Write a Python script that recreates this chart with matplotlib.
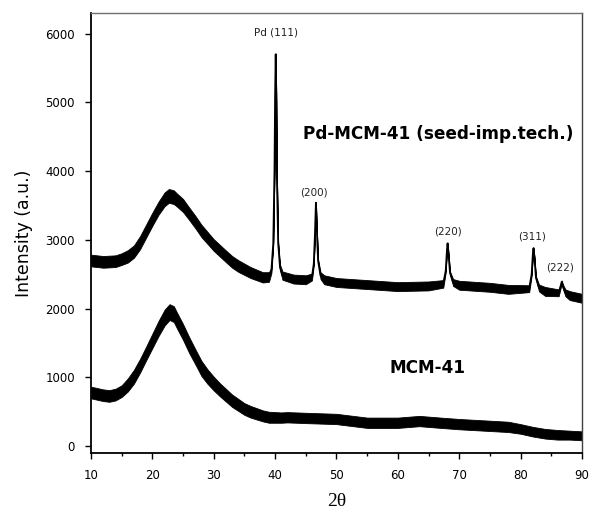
import matplotlib
matplotlib.use("Agg")
import matplotlib.pyplot as plt
import numpy as np

# ---- data ----
# Pd-MCM-41 (seed-imp.tech.) trace: 2theta, centre of noisy band, half-width of band
pd_x = [10, 12, 14, 15, 16, 17, 18, 19, 20, 21, 22, 22.7, 23.5, 24, 25, 26, 27, 28, 30, 32,
        33, 34, 36, 38, 39, 39.4, 39.7, 39.9, 40.0, 40.1, 40.2, 40.3, 40.5, 40.8, 41.2, 43, 45,
        46.0, 46.3, 46.5, 46.65, 46.8, 47.0, 47.4, 48, 50, 55, 60, 65, 67.4, 67.8, 68.0, 68.1,
        68.25, 68.5, 69, 70, 75, 78, 81.4, 81.8, 82.0, 82.1, 82.25, 82.5, 83, 84, 86.2, 86.5,
        86.7, 86.9, 87.3, 88, 90]
pd_y = [2700, 2680, 2690, 2720, 2760, 2830, 2960, 3130, 3300, 3460, 3590, 3640, 3620, 3580,
        3500, 3380, 3260, 3130, 2925, 2760, 2680, 2620, 2525, 2455, 2460, 2560, 2950, 4000,
        5100, 5700, 5000, 3900, 2950, 2600, 2480, 2430, 2420, 2460, 2650, 3100, 3540, 3150,
        2700, 2480, 2420, 2380, 2350, 2320, 2330, 2360, 2550, 2850, 2950, 2800, 2520, 2380,
        2340, 2310, 2280, 2290, 2500, 2800, 2880, 2750, 2450, 2300, 2250, 2230, 2320, 2390,
        2320, 2230, 2190, 2150]
pd_hw = [85, 85, 85, 85, 90, 90, 95, 95, 95, 95, 100, 100, 100, 95, 95, 90, 90, 90, 85, 85,
         85, 85, 80, 75, 70, 40, 20, 10, 10, 10, 10, 10, 20, 40, 60, 65, 65, 50, 20, 10, 10, 10,
         20, 50, 65, 65, 65, 65, 65, 55, 20, 10, 10, 10, 20, 50, 65, 65, 65, 50, 20, 10, 10, 10,
         20, 50, 65, 50, 30, 20, 30, 50, 65, 65]

# MCM-41 trace
mcm_x = [10, 11, 12, 13, 14, 15, 16, 17, 18, 19, 20, 21, 22, 22.8, 23.5, 24, 25, 26, 27, 28,
         29, 30, 31, 33, 35, 36, 38, 39, 41, 42, 45, 50, 55, 60, 63.5, 67, 70, 75, 78, 80, 82,
         84, 86, 88, 90]
mcm_y = [780, 760, 740, 730, 750, 800, 890, 1010, 1170, 1350, 1530, 1710, 1870, 1950, 1920,
         1830, 1660, 1470, 1300, 1130, 1010, 910, 820, 660, 540, 500, 440, 420, 415, 420, 410,
         395, 340, 340, 365, 340, 320, 295, 280, 250, 210, 180, 165, 160, 150]
mcm_hw = [85, 85, 85, 85, 85, 85, 95, 100, 100, 100, 105, 110, 115, 115, 115, 115, 115, 115,
          110, 110, 105, 100, 95, 90, 85, 85, 80, 80, 75, 75, 75, 75, 75, 75, 75, 75, 75, 75,
          75, 70, 70, 70, 70, 65, 65]

# peak labels
peak_labels = ["Pd (111)", "(200)", "(220)", "(311)", "(222)"]
peak_lx = [40.1, 46.3, 68.25, 81.9, 86.4]
peak_ly = [6010, 3690, 3115, 3042, 2605]

sample_labels = ["Pd-MCM-41 (seed-imp.tech.)", "MCM-41"]

x_ticks = [10, 20, 30, 40, 50, 60, 70, 80, 90]
y_ticks = [0, 1000, 2000, 3000, 4000, 5000, 6000]

# ---- figure ----
plt.rcParams['font.family'] = ['DejaVu Sans']
fig = plt.figure(figsize=(5.90, 5.09), dpi=100)
ax = fig.add_axes([0.1542, 0.110, 0.8322, 0.8645])

for xs, ys, hw in [(pd_x, pd_y, pd_hw), (mcm_x, mcm_y, mcm_hw)]:
    xs = np.asarray(xs, float)
    ys = np.asarray(ys, float)
    hw = np.asarray(hw, float)
    ax.fill_between(xs, ys - hw, ys + hw, color='black', linewidth=0.6, edgecolor='black')
    ax.plot(xs, ys, color='black', lw=1.3)

for t, lx, ly in zip(peak_labels, peak_lx, peak_ly):
    ax.text(lx, ly, t, ha='center', va='center', fontsize=7.5, color='#222222')

ax.text(44.5, 4540, sample_labels[0], ha='left', va='center', fontsize=12.2,
        fontweight='bold')
ax.text(64.75, 1135, sample_labels[1], ha='center', va='center', fontsize=12.2,
        fontweight='bold')

ax.set_xlim(10, 90)
ax.set_ylim(-100, 6300)
ax.set_xticks(x_ticks)
ax.set_xticks([15, 25, 35, 45, 55, 65, 75, 85], minor=True)
ax.set_yticks(y_ticks)
ax.tick_params(axis='both', which='major', direction='out', length=4.5, width=1,
               labelsize=8.5, pad=7)
ax.tick_params(axis='x', which='minor', direction='out', length=2.5, width=1)

ax.set_ylabel('Intensity (a.u.)', fontsize=12.5, labelpad=9)
ax.set_xlabel('2θ', fontsize=14, family=['Liberation Serif', 'DejaVu Serif'], labelpad=8)

ax.spines['left'].set_linewidth(1.3)
ax.spines['bottom'].set_linewidth(1.3)
ax.spines['top'].set_color('#707070')
ax.spines['top'].set_linewidth(1.0)
ax.spines['right'].set_color('#404040')
ax.spines['right'].set_linewidth(1.0)

fig.savefig('out.png', dpi=100)
